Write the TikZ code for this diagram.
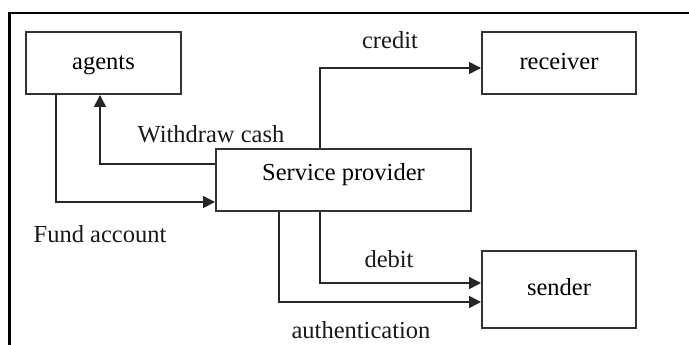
\documentclass[tikz,border=0pt]{standalone}
\usepackage{fontspec}
\setmainfont{Liberation Serif}
\newfontfamily\diagfont{Liberation Serif}
\usetikzlibrary{positioning}
\usetikzlibrary{calc}
\usetikzlibrary{arrows.meta}

\begin{document}
\begin{tikzpicture}[x=1pt,y=-1pt,
        font=\diagfont\fontsize{24.5}{28}\selectfont,
        box/.style={draw=black!80, line width=2pt, inner sep=0pt, text height=19pt, text depth=5pt},
        conn/.style={draw=black!85, line width=1.6pt},
        arr/.style={conn, -{Triangle[length=12pt,width=12pt]}},
        lbl/.style={inner sep=0pt, text=black!90}]
            \useasboundingbox (0,0) rectangle (689,345);
            % Rahmen
            \draw[line width=2.5pt] (9.5,345) -- (9.5,13) -- (689,13);
            
            % Kaesten
            \node [box, minimum width=155pt, minimum height=62pt] (agents) at (103.5,63) {agents};
            \node [box, minimum width=154pt, minimum height=62pt] (receiver) at (559,63) {receiver};
            \node [box, minimum width=255pt, minimum height=62pt, text depth=19pt] (provider) at (343.5,180) {Service provider};
            \node [box, minimum width=154pt, minimum height=77pt, text depth=7pt] (sender) at (559,289.5) {sender};
            
            % Beschriftungen
            \node [lbl] (creditlbl) at (390,40) {credit};
            \node [lbl] (withdrawlbl) at (211,134) {Withdraw cash};
            \node [lbl] (fundlbl) at (100,234) {Fund account};
            \node [lbl] (debitlbl) at (389,259) {debit};
            \node [lbl] (authlbl) at (361,330) {authentication};
            
            % Verbindungen
            \coordinate (creditturn) at (320,68);
            \draw [arr] ([xshift=-23.5pt]provider.north) |- (receiver.west |- creditturn);
            \draw [arr] ([yshift=16pt]provider.west) -| ([xshift=-3.5pt]agents.south);
            \draw [arr] ([xshift=-47.5pt]agents.south) |- ([yshift=-22pt]provider.west);
            \draw [arr] ([xshift=-23.5pt]provider.south) |- ([yshift=6.5pt]sender.west);
            \draw [arr] ([xshift=-64.5pt]provider.south) |- ([yshift=-12.5pt]sender.west);
        \end{tikzpicture}
\end{document}
